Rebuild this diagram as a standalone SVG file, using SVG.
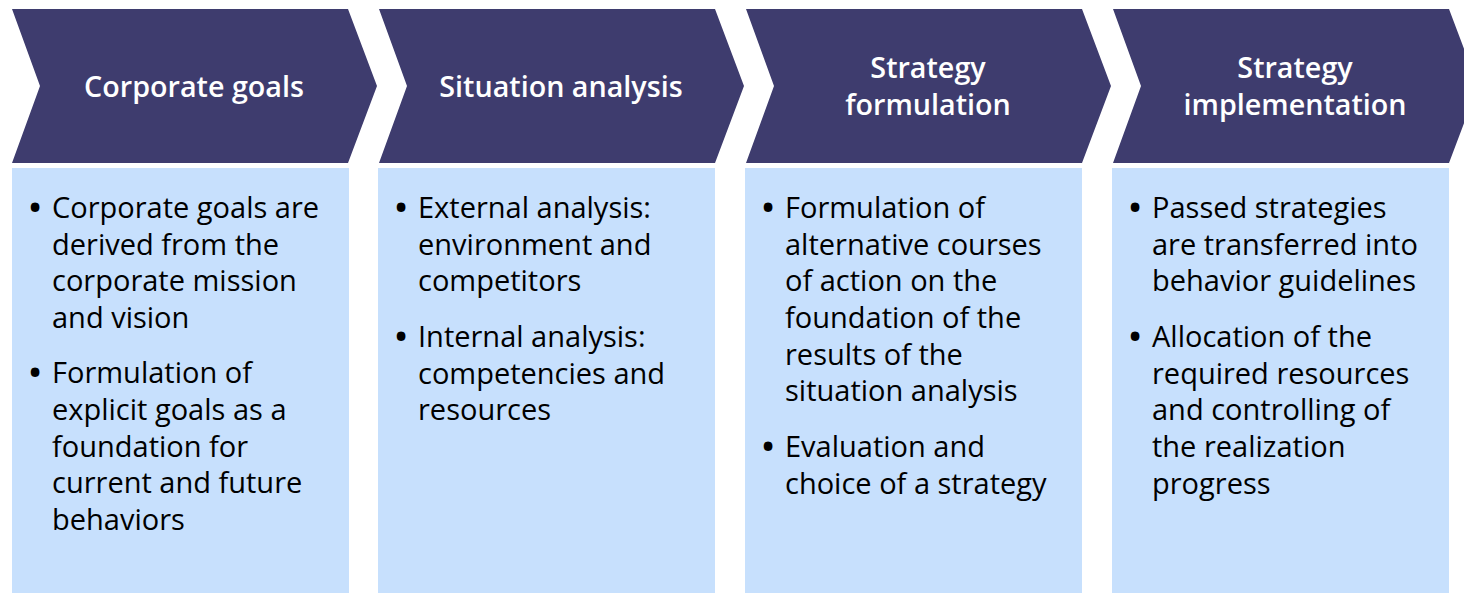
<svg xmlns="http://www.w3.org/2000/svg" width="1464" height="593" viewBox="0 0 1464 593">
<style>
.chev{fill:#3E3C6E}
.box{fill:#C7E0FD}
.hd{font-family:"Open Sans","Noto Sans",sans-serif;font-weight:600;font-size:28.7px;fill:#FFFFFF;text-anchor:middle}
.bd{font-family:"Open Sans","Noto Sans",sans-serif;font-size:29px;fill:#000000}
.bl{font-family:"Open Sans","Noto Sans",sans-serif;font-size:31px;font-weight:700;fill:#000000;text-anchor:middle}
</style>
<rect width="1464" height="593" fill="#FFFFFF"/>
<g id="step1">
<polygon class="chev" points="12,9 348,9 377,86 348,163 12,163 40,86"/>
<rect class="box" x="12" y="168" width="337" height="425"/>
<text class="hd" x="194" y="97">Corporate goals</text>
<text class="bl" x="35" y="218">•</text>
<text class="bd" x="52" y="218">Corporate goals are</text>
<text class="bd" x="52" y="254.7">derived from the</text>
<text class="bd" x="52" y="291.3">corporate mission</text>
<text class="bd" x="52" y="328">and vision</text>
<text class="bl" x="35" y="383.4">•</text>
<text class="bd" x="52" y="383.4">Formulation of</text>
<text class="bd" x="52" y="420">explicit goals as a</text>
<text class="bd" x="52" y="456.7">foundation for</text>
<text class="bd" x="52" y="493.3">current and future</text>
<text class="bd" x="52" y="530">behaviors</text>
</g>
<g id="step2">
<polygon class="chev" points="379,9 715,9 744,86 715,163 379,163 407,86"/>
<rect class="box" x="378" y="168" width="337" height="425"/>
<text class="hd" x="561" y="97">Situation analysis</text>
<text class="bl" x="401" y="218">•</text>
<text class="bd" x="418" y="218">External analysis:</text>
<text class="bd" x="418" y="254.7">environment and</text>
<text class="bd" x="418" y="291.3">competitors</text>
<text class="bl" x="401" y="347">•</text>
<text class="bd" x="418" y="347">Internal analysis:</text>
<text class="bd" x="418" y="383.6">competencies and</text>
<text class="bd" x="418" y="420.3">resources</text>
</g>
<g id="step3">
<polygon class="chev" points="746,9 1082,9 1111,86 1082,163 746,163 774,86"/>
<rect class="box" x="745" y="168" width="337" height="425"/>
<text class="hd" x="928" y="78">Strategy</text>
<text class="hd" x="928" y="114.5">formulation</text>
<text class="bl" x="768" y="218">•</text>
<text class="bd" x="785" y="218">Formulation of</text>
<text class="bd" x="785" y="254.7">alternative courses</text>
<text class="bd" x="785" y="291.3">of action on the</text>
<text class="bd" x="785" y="328">foundation of the</text>
<text class="bd" x="785" y="364.7">results of the</text>
<text class="bd" x="785" y="401.3">situation analysis</text>
<text class="bl" x="768" y="456.9">•</text>
<text class="bd" x="785" y="456.9">Evaluation and</text>
<text class="bd" x="785" y="493.5">choice of a strategy</text>
</g>
<g id="step4">
<polygon class="chev" points="1113,9 1449,9 1478,86 1449,163 1113,163 1141,86"/>
<rect class="box" x="1112" y="168" width="337" height="425"/>
<text class="hd" x="1295" y="78">Strategy</text>
<text class="hd" x="1295" y="114.5">implementation</text>
<text class="bl" x="1135" y="218">•</text>
<text class="bd" x="1152" y="218">Passed strategies</text>
<text class="bd" x="1152" y="254.7">are transferred into</text>
<text class="bd" x="1152" y="291.3">behavior guidelines</text>
<text class="bl" x="1135" y="347">•</text>
<text class="bd" x="1152" y="347">Allocation of the</text>
<text class="bd" x="1152" y="383.6">required resources</text>
<text class="bd" x="1152" y="420.3">and controlling of</text>
<text class="bd" x="1152" y="456.9">the realization</text>
<text class="bd" x="1152" y="493.5">progress</text>
</g>
<g id="connectors"></g>
</svg>
